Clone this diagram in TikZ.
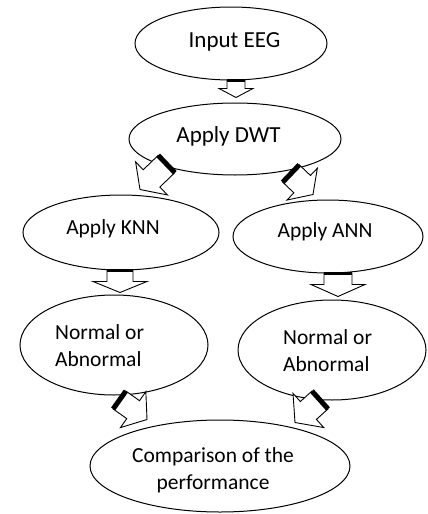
\documentclass[tikz,border=0pt]{standalone}
\usepackage{fontspec}
\setmainfont{Carlito}
\usetikzlibrary{shapes.geometric,calc}
\tikzset{
  ell/.style={ellipse, draw, line width=1pt, inner sep=0pt, fill=white},
  lbl/.style={font=\fontsize{21.5}{27}\selectfont, inner sep=0pt, anchor=base},
  lblbig/.style={lbl, font=\fontsize{23}{27}\selectfont},
  lbll/.style={lbl, align=left, anchor=base west},
  lblc/.style={lbl, align=center},
  blockout/.style={draw, fill=white, line width=0.9pt, line join=miter},
}
% block arrow: #1 tail, #2 tip, #3 shaft half width, #4 head half width,
% #5 head length, #6 width of the dark bar on the tail
\newcommand{\blockarr}[6]{%
  \coordinate (ba-b) at ($(#2)!#5!(#1)$);
  \draw[blockout]
    ($(#1)!#3!90:(#2)$) -- ($(ba-b)!#3!-90:(#1)$) -- ($(ba-b)!#4!-90:(#1)$)
    -- (#2) -- ($(ba-b)!#4!90:(#1)$) -- ($(ba-b)!#3!90:(#1)$)
    -- ($(#1)!#3!-90:(#2)$) -- cycle;
  \draw[line width=#6] ($(#1)!#3!90:(#2)$) -- ($(#1)!#3!-90:(#2)$);
}
\begin{document}
\begin{tikzpicture}[x=1pt,y=-1pt]
\useasboundingbox[fill=white] (0,0) rectangle (428,514);

% ellipses
\node[ell, minimum width=192pt, minimum height=73pt] (eeg) at (231,43.5) {};
\node[ell, minimum width=212pt, minimum height=72pt] (dwt) at (235,139) {};
\node[ell, minimum width=196pt, minimum height=75pt] (knn) at (121,232.5) {};
\node[ell, minimum width=190pt, minimum height=73pt] (ann) at (328,236.5) {};
\node[ell, minimum width=188pt, minimum height=100pt] (nl) at (114,345) {};
\node[ell, minimum width=188pt, minimum height=100pt] (nr) at (332,350) {};
\node[ell, minimum width=260pt, minimum height=92pt] (cmp) at (220,466) {};

% labels (multi-line labels are anchored on the baseline of their last line)
\node[lblbig] (teeg) at (234.5,47) {Input EEG};
\node[lblbig] (tdwt) at (228.5,142) {Apply DWT};
\node[lbl] (tknn) at (113,234) {Apply KNN};
\node[lbl] (tann) at (325,237) {Apply ANN};
\node[lbll] (tnl) at (55,366) {Normal or\\Abnormal};
\node[lbll] (tnr) at (283,371) {Normal or\\Abnormal};
\node[lblc] (tcmp) at (213,489) {Comparison of the\\performance};

% connectors
\coordinate (a1t) at ($(eeg.south)+(5,0)$);
\coordinate (a1h) at ($(dwt.north)+(1,-5)$);
\blockarr{a1t}{a1h}{9pt}{17pt}{9pt}{2.5pt}

\coordinate (a2t) at ($(knn.south)+(-1,0)$);
\coordinate (a2h) at ($(nl.north)+(6,-2)$);
\blockarr{a2t}{a2h}{13pt}{27pt}{11pt}{3pt}

\coordinate (a3t) at ($(ann.south)+(10,0)$);
\coordinate (a3h) at ($(nr.north)+(6,-3)$);
\blockarr{a3t}{a3h}{14pt}{27pt}{12pt}{3pt}

\coordinate (a4t) at ($(dwt.center)+(-68.5,25)$);
\coordinate (a4h) at ($(knn.north)+(19,-5)$);
\blockarr{a4t}{a4h}{12pt}{23pt}{16pt}{5pt}

\coordinate (a5t) at ($(dwt.center)+(56,34.5)$);
\coordinate (a5h) at ($(ann.north)+(-15,-5)$);
\blockarr{a5t}{a5h}{12pt}{22pt}{15pt}{5pt}

\coordinate (a6t) at ($(nl.south)+(5.5,4.5)$);
\coordinate (a6h) at ($(cmp.north)+(-73,0)$);
\blockarr{a6t}{a6h}{11pt}{22pt}{17pt}{5pt}

\coordinate (a7t) at ($(nr.south)+(-12,-0.5)$);
\coordinate (a7h) at ($(cmp.north)+(75,3)$);
\blockarr{a7t}{a7h}{12pt}{23pt}{18pt}{5pt}
\end{tikzpicture}
\end{document}
